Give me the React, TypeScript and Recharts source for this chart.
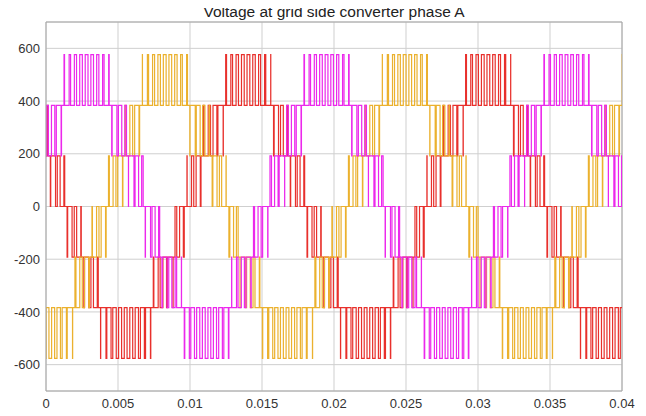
import React from 'react';
import {
  CartesianGrid,
  Line,
  LineChart,
  ReferenceLine,
  XAxis,
  YAxis,
} from 'recharts';

// time in ms, voltage levels in units of one cell step
const STEP_V = 192;
const CARRIER_MS = 0.3875;

// carrier period centres (ms)
const carrierCentres = [
  0.1075, 0.495, 0.8825, 1.27, 1.6575, 2.045, 2.4325, 2.82, 3.2075, 3.595,
  3.9825, 4.37, 4.7575, 5.145, 5.5325, 5.92, 6.3075, 6.695, 7.0825, 7.47,
  7.8575, 8.245, 8.6325, 9.02, 9.4075, 9.795, 10.1825, 10.57, 10.9575, 11.345,
  11.7325, 12.12, 12.5075, 12.895, 13.2825, 13.67, 14.0575, 14.445, 14.8325,
  15.22, 15.6075, 15.995, 16.3825, 16.77, 17.1575, 17.545, 17.9325, 18.32,
  18.7075, 19.095, 19.4825, 19.87, 20.2575, 20.645, 21.0325, 21.42, 21.8075,
  22.195, 22.5825, 22.97, 23.3575, 23.745, 24.1325, 24.52, 24.9075, 25.295,
  25.6825, 26.07, 26.4575, 26.845, 27.2325, 27.62, 28.0075, 28.395, 28.7825,
  29.17, 29.5575, 29.945, 30.3325, 30.72, 31.1075, 31.495, 31.8825, 32.27,
  32.6575, 33.045, 33.4325, 33.82, 34.2075, 34.595, 34.9825, 35.37, 35.7575,
  36.145, 36.5325, 36.92, 37.3075, 37.695, 38.0825, 38.47, 38.8575, 39.245,
  39.6325, 40.02,
];

// per carrier period: which band the phase sits in and how wide its pulse is
const magentaLevels = [
  1.3, 1.6, 1.86, 2.09, 2.26, 2.39, 2.47, 2.5, 2.47, 2.39, 2.26, 2.09, 1.86,
  1.6, 1.3, 0.98, 0.63, 0.27, -0.09, -0.45, -0.81, -1.14, -1.45, -1.73, -1.98,
  -2.18, -2.34, -2.44, -2.49, -2.49, -2.44, -2.34, -2.18, -1.98, -1.73, -1.45,
  -1.14, -0.81, -0.45, -0.09, 0.27, 0.63, 0.98, 1.3, 1.6, 1.86, 2.09, 2.26,
  2.39, 2.47, 2.5, 2.47, 2.39, 2.26, 2.09, 1.86, 1.6, 1.3, 0.98, 0.63, 0.27,
  -0.09, -0.45, -0.81, -1.14, -1.45, -1.73, -1.98, -2.18, -2.34, -2.44, -2.49,
  -2.49, -2.44, -2.34, -2.18, -1.98, -1.73, -1.45, -1.14, -0.81, -0.45, -0.09,
  0.27, 0.63, 0.98, 1.3, 1.6, 1.86, 2.09, 2.26, 2.39, 2.47, 2.5, 2.47, 2.39,
  2.26, 2.09, 1.86, 1.6, 1.3, 0.98, 0.63, 0.27,
];

const orangeLevels = [
  -2.5, -2.46, -2.38, -2.24, -2.05, -1.82, -1.55, -1.25, -0.92, -0.57, -0.21,
  0.15, 0.51, 0.86, 1.2, 1.5, 1.78, 2.01, 2.21, 2.36, 2.45, 2.5, 2.49, 2.43,
  2.31, 2.15, 1.94, 1.69, 1.41, 1.09, 0.75, 0.4, 0.03, -0.33, -0.69, -1.03,
  -1.35, -1.65, -1.9, -2.12, -2.29, -2.41, -2.48, -2.5, -2.46, -2.38, -2.24,
  -2.05, -1.82, -1.55, -1.25, -0.92, -0.57, -0.21, 0.15, 0.51, 0.86, 1.2, 1.5,
  1.78, 2.01, 2.21, 2.36, 2.45, 2.5, 2.49, 2.43, 2.31, 2.15, 1.94, 1.69, 1.41,
  1.09, 0.75, 0.4, 0.03, -0.33, -0.69, -1.03, -1.35, -1.65, -1.9, -2.12, -2.29,
  -2.41, -2.48, -2.5, -2.46, -2.38, -2.24, -2.05, -1.82, -1.55, -1.25, -0.92,
  -0.57, -0.21, 0.15, 0.51, 0.86, 1.2, 1.5, 1.78, 2.01,
];

const redLevels = [
  1.2, 0.86, 0.51, 0.15, -0.21, -0.57, -0.92, -1.25, -1.55, -1.82, -2.05,
  -2.24, -2.38, -2.46, -2.5, -2.48, -2.41, -2.29, -2.12, -1.9, -1.65, -1.35,
  -1.03, -0.69, -0.33, 0.03, 0.4, 0.75, 1.09, 1.41, 1.69, 1.94, 2.15, 2.31,
  2.43, 2.49, 2.5, 2.45, 2.36, 2.21, 2.01, 1.78, 1.5, 1.2, 0.86, 0.51, 0.15,
  -0.21, -0.57, -0.92, -1.25, -1.55, -1.82, -2.05, -2.24, -2.38, -2.46, -2.5,
  -2.48, -2.41, -2.29, -2.12, -1.9, -1.65, -1.35, -1.03, -0.69, -0.33, 0.03,
  0.4, 0.75, 1.09, 1.41, 1.69, 1.94, 2.15, 2.31, 2.43, 2.49, 2.5, 2.45, 2.36,
  2.21, 2.01, 1.78, 1.5, 1.2, 0.86, 0.51, 0.15, -0.21, -0.57, -0.92, -1.25,
  -1.55, -1.82, -2.05, -2.24, -2.38, -2.46, -2.5, -2.48, -2.41, -2.29,
];

const xTicks = [0, 5, 10, 15, 20, 25, 30, 35, 40];
const xTickLabels = ['0', '0.005', '0.01', '0.015', '0.02', '0.025', '0.03', '0.035', '0.04'];
const yTicks = [-600, -400, -200, 0, 200, 400, 600];

type Step = { t: number; v: number };

// one pulse per carrier period, centred on the period, width = fraction of band
const buildSteps = (centres: number[], levels: number[]): Step[] => {
  const pts: Step[] = [];
  centres.forEach((c, i) => {
    const u = levels[i];
    const b = Math.floor(u);
    const half = ((u - b) * CARRIER_MS) / 2;
    pts.push({ t: c - CARRIER_MS / 2, v: b * STEP_V });
    pts.push({ t: c - half, v: (b + 1) * STEP_V });
    pts.push({ t: c + half, v: b * STEP_V });
  });

  return pts;
};

const magentaData = buildSteps(carrierCentres, magentaLevels);
const orangeData = buildSteps(carrierCentres, orangeLevels);
const redData = buildSteps(carrierCentres, redLevels);

const FONT = '"Liberation Sans", Arial, Helvetica, sans-serif';
const FRAME = '#a6a6a6';

const App = () => {
  return (
    <div style={{ position: 'relative', width: 638, height: 408, fontFamily: FONT }}>
      <div
        style={{
          position: 'absolute',
          left: 38,
          width: 576,
          top: -3,
          textAlign: 'center',
          fontSize: 15.5,
          lineHeight: '14px',
          color: '#222',
        }}>
        Voltage at grid side converter phase A
      </div>
      <LineChart
        height={408}
        margin={{ top: 14, right: 24, bottom: 0, left: 0 }}
        width={638}>
        <CartesianGrid stroke="#cfcfcf" />
        <XAxis
          allowDataOverflow
          axisLine={{ stroke: FRAME }}
          dataKey="t"
          domain={[0, 40]}
          height={25}
          tick={{ fill: '#333', fontSize: 13, fontFamily: FONT }}
          tickFormatter={(v: number) => xTickLabels[xTicks.indexOf(v)] ?? String(v)}
          tickLine={false}
          ticks={xTicks}
          type="number"
        />
        <YAxis
          allowDataOverflow
          axisLine={{ stroke: FRAME }}
          domain={[-700, 700]}
          tick={{ fill: '#333', fontSize: 13, fontFamily: FONT }}
          tickLine={false}
          tickMargin={0}
          tickSize={6}
          ticks={yTicks}
          type="number"
          width={38}
        />
        <ReferenceLine stroke={FRAME} y={700} />
        <ReferenceLine stroke={FRAME} x={40} />
        <Line
          data={redData}
          dataKey="v"
          dot={false}
          isAnimationActive={false}
          stroke="#e8302c"
          strokeWidth={1.2}
          type="stepAfter"
        />
        <Line
          data={orangeData}
          dataKey="v"
          dot={false}
          isAnimationActive={false}
          stroke="#ebb12e"
          strokeWidth={1.2}
          type="stepAfter"
        />
        <Line
          data={magentaData}
          dataKey="v"
          dot={false}
          isAnimationActive={false}
          stroke="#ec28ec"
          strokeWidth={1.2}
          type="stepAfter"
        />
      </LineChart>
    </div>
  );
};

export default App;
